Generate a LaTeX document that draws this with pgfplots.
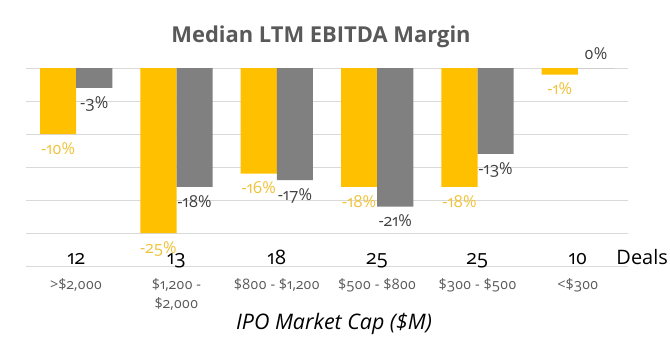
\documentclass[border=0pt]{standalone}
\usepackage{pgfplots}
\pgfplotsset{compat=1.18}
\usepackage{fontspec}
\setmainfont{Open Sans}[Numbers=OldStyle]
\definecolor{barY}{HTML}{FFC000}
\definecolor{barG}{HTML}{808080}
\definecolor{lblY}{HTML}{F0C23A}
\definecolor{lblG}{HTML}{404040}
\definecolor{titleG}{HTML}{595959}
\definecolor{gridG}{HTML}{D9D9D9}
\begin{document}
\begin{tikzpicture}
\useasboundingbox (-26bp,-93bp) rectangle (644bp,266bp);
\begin{axis}[
  at={(0,0)}, anchor=south west,
  scale only axis, width=602bp, height=198bp,
  xmin=-0.5, xmax=5.5, ymin=-30, ymax=0,
  ybar=0pt, bar width=0.36,
  axis line style={draw=none},
  major tick style={draw=none},
  ytick={-30,-25,-20,-15,-10,-5,0},
  yticklabels={},
  ymajorgrids, grid style={gridG, line width=0.8pt},
  xtick={0,1,2,3,4,5},
  xticklabels={{>\$2,000},{\$1,200 -\\\$2,000},{\$800 - \$1,200},{\$500 - \$800},{\$300 - \$500},{<\$300}},
  xticklabel style={align=center, font=\fontsize{14.5}{18.5}\selectfont, text=titleG, yshift=-5bp},
  clip=false,
  nodes near coords={\pgfmathprintnumber[assume math mode=true]{\pgfplotspointmeta}\%},
  nodes near coords align={vertical},
]
\addplot[fill=barY, draw=none, every node near coord/.append style={text=lblY, font=\fontsize{16.5}{16.5}\selectfont, outer ysep=5bp}]
  coordinates {(0,-10) (1,-25) (2,-16) (3,-18) (4,-18) (5,-1)};
\addplot[fill=barG, draw=none, every node near coord/.append style={text=lblG, font=\fontsize{16.5}{16.5}\selectfont, outer ysep=5bp}]
  coordinates {(0,-3) (1,-18) (2,-17) (3,-21) (4,-13) (5,0)};
\foreach \i/\n in {0/12,1/13,2/18,3/25,4/25,5/10} {
  \edef\tmp{\noexpand\node[anchor=base, font=\noexpand\fontsize{20}{20}\noexpand\selectfont, text=black] at (axis cs:\i,-30) [yshift=2bp] {\n};}
  \tmp
}
\node[anchor=base west, font=\fontsize{20}{20}\selectfont, text=black] at (axis cs:5.35,-30) [yshift=2bp] {Deals};
\end{axis}
\node[font=\fontsize{22}{22}\bfseries\selectfont, text=titleG] at (295bp,229bp) {Median LTM EBITDA Margin};
\node[font=\fontsize{21.5}{21.5}\itshape\selectfont, text=black] at (308bp,-58bp) {IPO Market Cap (\$M)};
\end{tikzpicture}
\end{document}
